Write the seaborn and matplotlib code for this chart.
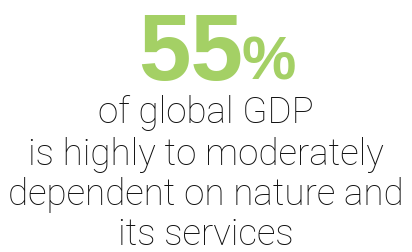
import matplotlib
matplotlib.use('Agg')
import matplotlib.pyplot as plt
import seaborn as sns

sns.set_theme(style='white')

big_number = '55'
unit = '%'
lines = ['of global GDP', 'is highly to moderately', 'dependent on nature and', 'its services']
green = '#a4d065'

fig = plt.figure(figsize=(4.12, 2.52), dpi=100)
fig.patch.set_facecolor('white')

# headline number, then the percent sign right after it
base = 1 - 80 / 252
t_num = fig.text(0.5, base, big_number, ha='left', va='baseline',
                 fontsize=68, fontweight='bold', family='Liberation Sans', color=green)
t_pct = fig.text(0.5, base, unit, ha='left', va='baseline',
                 fontsize=44, fontweight='bold', family='Liberation Sans', color=green)
fig.canvas.draw()
r = fig.canvas.get_renderer()
w_num = t_num.get_window_extent(r).width
w_pct = t_pct.get_window_extent(r).width
gap = -2
x0 = 217 - (w_num + gap + w_pct) / 2
t_num.set_x(x0 / 412)
t_pct.set_x((x0 + w_num + gap) / 412)

baselines = [123, 165, 205, 245]
for txt, b in zip(lines, baselines):
    fig.text(0.5, 1 - b / 252, txt, ha='center', va='baseline',
             fontsize=26.5, fontweight='light', family='Roboto', color='#111111')

fig.savefig('out.png', dpi=100, facecolor='white')
